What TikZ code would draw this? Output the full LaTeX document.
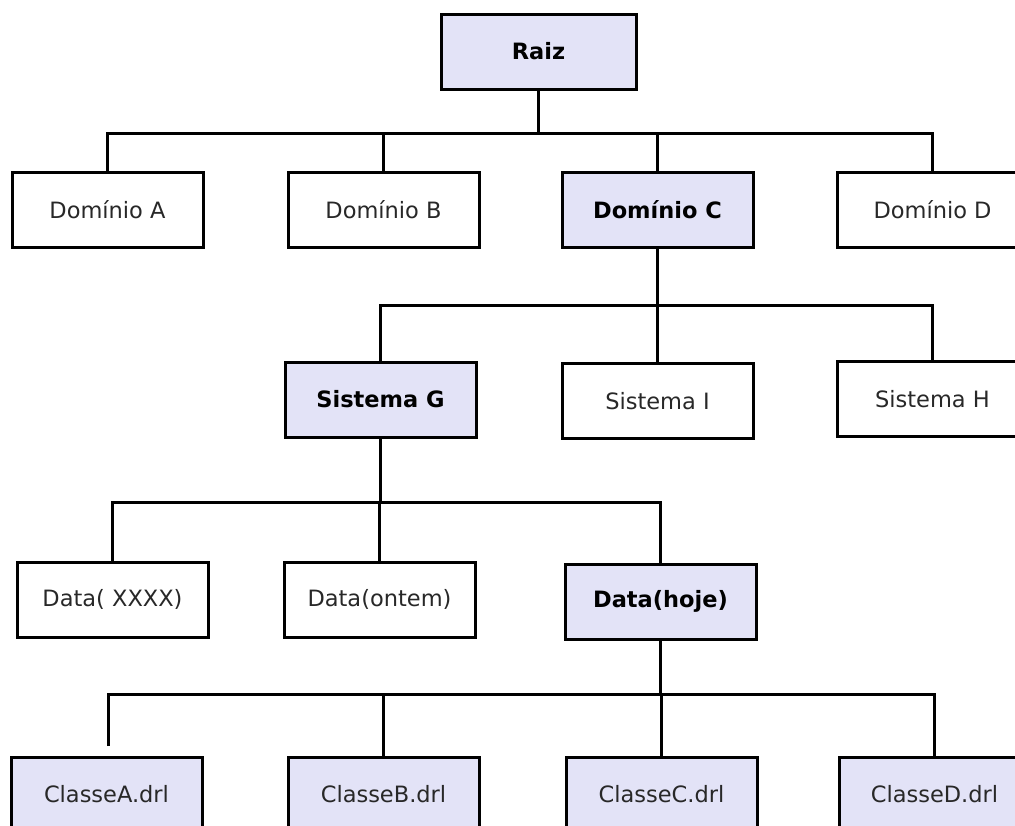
\documentclass[tikz,border=0pt]{standalone}
\usepackage{fontspec}
\setmainfont{DejaVu Sans}
\definecolor{lav}{RGB}{227,227,247}
\definecolor{ink}{RGB}{40,40,40}
\begin{document}
\begin{tikzpicture}[x=1pt,y=-1pt,
  box/.style={draw=black, line width=3pt, minimum width=191pt, minimum height=75pt,
              inner sep=0pt, text=ink, font=\fontsize{22.5}{27}\selectfont},
  plainbox/.style={box, fill=white},
  lavbox/.style={box, fill=lav},
  keybox/.style={lavbox, text=black, font=\fontsize{22.5}{27}\selectfont\bfseries},
  wire/.style={line width=3pt}]
\clip (0,0) rectangle (1015,825);
\fill[white] (0,0) rectangle (1015,825);

% bus heights
\coordinate (bus1) at (0,133);
\coordinate (bus2) at (0,305);
\coordinate (bus3) at (0,502);
\coordinate (bus4) at (0,694);

% root
\node[keybox, minimum width=195pt] (raiz) at (538.5,51.5) {Raiz};

% domains
\node[plainbox] (dA) at (107.5,209.5) {Domínio A};
\node[plainbox] (dB) at (383.5,210) {Domínio B};
\node[keybox]   (dC) at (657.5,209.5) {Domínio C};
\node[plainbox] (dD) at (932.5,209.5) {Domínio D};

% systems
\node[keybox]   (sG) at (380.5,399.5) {Sistema G};
\node[plainbox] (sI) at (657.5,401) {Sistema I};
\node[plainbox] (sH) at (932.5,399) {Sistema H};

% dates
\node[plainbox] (dtX) at (112.5,599.5) {Data( XXXX)};
\node[plainbox] (dtO) at (379.5,599.5) {Data(ontem)};
\node[keybox]   (dtH) at (660.5,601.5) {Data(hoje)};

% rule files
\node[lavbox] (cA) at (106.5,794.5) {ClasseA.drl};
\node[lavbox] (cB) at (383.5,794.5) {ClasseB.drl};
\node[lavbox] (cC) at (661.5,794.5) {ClasseC.drl};
\node[lavbox] (cD) at (934.5,794.5) {ClasseD.drl};

% root -> domains
\draw[wire] (raiz.south) -- (raiz.south |- bus1);
\draw[wire] (dA.north) |- (dD.north |- bus1) -- (dD.north);
\draw[wire] (dB.north) -- (dB.north |- bus1);
\draw[wire] (dC.north) -- (dC.north |- bus1);

% Domínio C -> systems
\draw[wire] (dC.south) -- (dC.south |- bus2);
\draw[wire] (sG.north) |- (sH.north |- bus2) -- (sH.north);
\draw[wire] (sI.north) -- (sI.north |- bus2);

% Sistema G -> dates
\draw[wire] (sG.south) -- (sG.south |- bus3);
\draw[wire] (dtX.north) |- (dtH.north |- bus3) -- (dtH.north);
\draw[wire] (dtO.north) -- (dtO.north |- bus3);

% Data(hoje) -> rule files
\coordinate (cAend) at (108,746);
\draw[wire] (dtH.south) -- (dtH.south |- bus4);
\draw[wire] (cAend) |- (cD.north |- bus4) -- (cD.north);
\draw[wire] (cB.north) -- (cB.north |- bus4);
\draw[wire] (cC.north) -- (cC.north |- bus4);
\end{tikzpicture}
\end{document}
